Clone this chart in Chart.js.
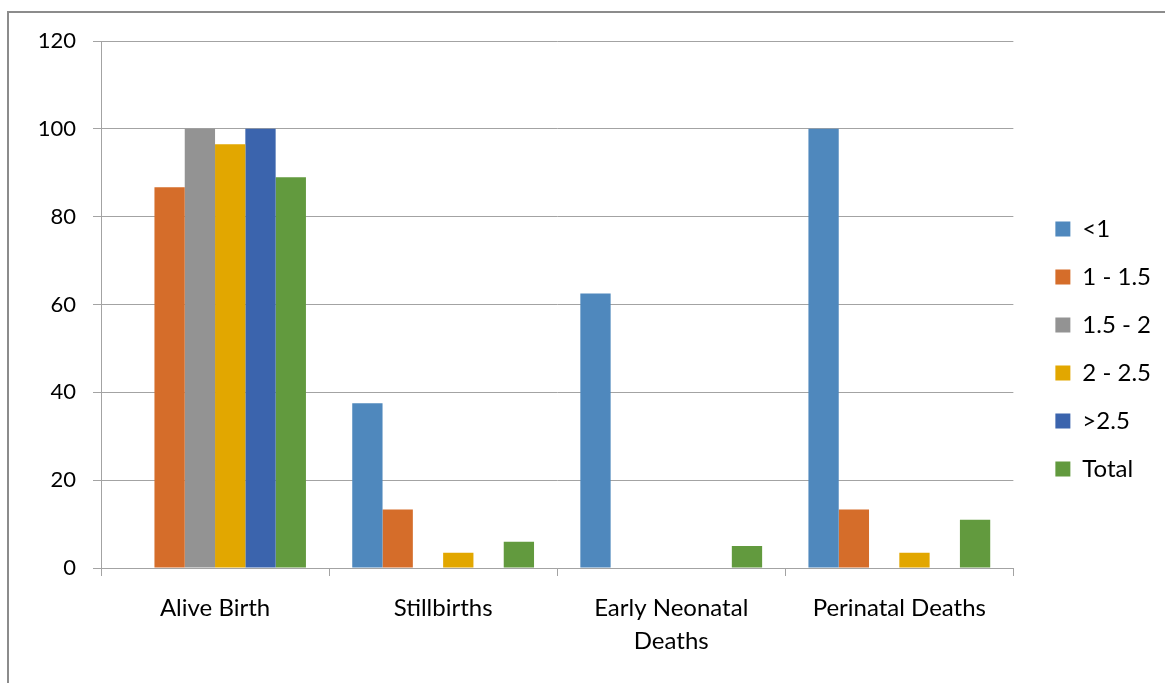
<!DOCTYPE html>
<html>
<head>
<meta charset="utf-8">
<script src="https://cdn.jsdelivr.net/npm/chart.js@4/dist/chart.umd.min.js"></script>
<style>
  html, body { margin: 0; padding: 0; background: #fff; overflow: hidden; }
  #marco { position: absolute; left: 7px; top: 11px; width: 2000px; height: 2000px; border: 2px solid #8c8c8c; }
  #caja { position: absolute; left: 0; top: 0; width: 1165px; height: 683px; }
</style>
</head>
<body>
<div id="marco"></div>
<div id="caja"><canvas id="grafico"></canvas></div>
<script>
// categorias y series (porcentajes por peso al nacer)
const categorias = ["Alive Birth", "Stillbirths", ["Early Neonatal", "Deaths"], "Perinatal Deaths"];
const series = ["<1", "1 - 1.5", "1.5 - 2", "2 - 2.5", ">2.5", "Total"];
const menos1 = [0, 37.5, 62.5, 100];
const de1a15 = [86.7, 13.3, 0, 13.3];
const de15a2 = [100, 0, 0, 0];
const de2a25 = [96.5, 3.5, 0, 3.5];
const mas25 = [100, 0, 0, 0];
const total = [89, 6, 5, 11];
const colores = ["#4f88bd", "#d56d2a", "#939393", "#e2a700", "#3b64ad", "#629a3e"];
const ticksY = [0, 20, 40, 60, 80, 100, 120];

const valores = [menos1, de1a15, de15a2, de2a25, mas25, total];
const fuente = "Lato, 'Open Sans', sans-serif";
const gris = "#a3a3a3";

Chart.defaults.font.family = fuente;
Chart.defaults.color = "#000";

new Chart(document.getElementById("grafico"), {
    type: "bar",
    data: {
        labels: categorias,
        datasets: series.map((nombre, i) => ({
            label: nombre,
            data: valores[i],
            backgroundColor: colores[i],
            borderWidth: 0,
            barPercentage: 1,
            categoryPercentage: 0.797
        }))
    },
    options: {
        responsive: true,
        maintainAspectRatio: false,
        animation: false,
        layout: { padding: { top: 41, bottom: 26, left: 0, right: 4 } },
        plugins: {
            legend: {
                position: "right",
                labels: {
                    boxWidth: 15,
                    boxHeight: 15,
                    padding: 24,
                    font: { size: 24 },
                    color: "#000"
                }
            },
            tooltip: { enabled: false }
        },
        scales: {
            x: {
                grid: { offset: true, drawOnChartArea: false, tickLength: 8, color: gris },
                border: { color: gris },
                ticks: { font: { size: 24, lineHeight: 1.375 }, padding: 16, maxRotation: 0 },
                afterFit: (escala) => { escala.height = 89; }
            },
            y: {
                min: 0,
                max: 120,
                afterBuildTicks: (escala) => { escala.ticks = ticksY.map(v => ({ value: v })); },
                grid: { color: gris, tickLength: 8 },
                border: { color: gris },
                ticks: { font: { size: 22 }, padding: 17 },
                afterFit: (escala) => { escala.width = 101; }
            },
            hueco: {
                type: "linear",
                position: "right",
                grid: { display: false },
                border: { display: false },
                ticks: { display: false },
                afterFit: (escala) => { escala.width = 18; }
            }
        }
    }
});
</script>
</body>
</html>
